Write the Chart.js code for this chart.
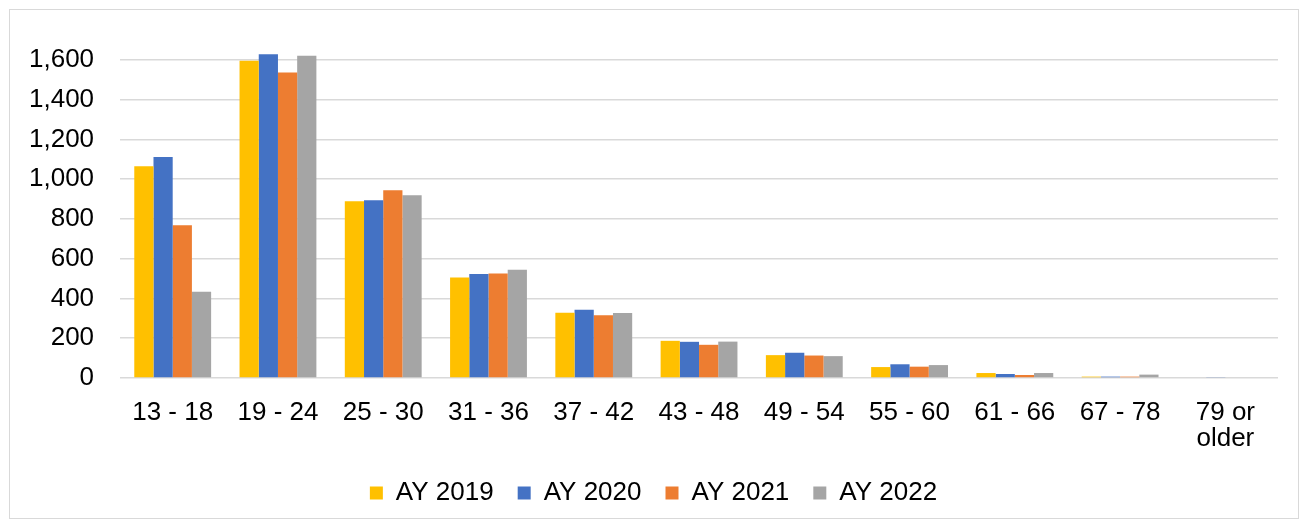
<!DOCTYPE html>
<html>
<head>
<meta charset="utf-8">
<script src="https://cdn.jsdelivr.net/npm/chart.js@4"></script>
<style>
  body { margin: 0; background: #fff; }
  #frame {
    position: absolute; left: 9px; top: 9px;
    width: 1290px; height: 510px;
    border: 1px solid #d9d9d9; box-sizing: border-box;
  }
</style>
</head>
<body>
<div id="frame"><canvas id="chart"></canvas></div>
<script>
// age groups on the x axis
const categories = ["13 - 18", "19 - 24", "25 - 30", "31 - 36", "37 - 42", "43 - 48",
  "49 - 54", "55 - 60", "61 - 66", "67 - 78", ["79 or", "older"]]

const ay2019 = [1065, 1596, 889, 505, 328, 187, 115, 55, 25, 7, 0]
const ay2020 = [1111, 1628, 894, 523, 343, 182, 127, 69, 20, 7, 3]
const ay2021 = [768, 1537, 944, 525, 315, 167, 113, 57, 15, 7, 0]
const ay2022 = [434, 1621, 919, 545, 327, 183, 110, 65, 25, 17, 0]

const yTicks = [0, 200, 400, 600, 800, 1000, 1200, 1400, 1600]

const seriesNames = ["AY 2019", "AY 2020", "AY 2021", "AY 2022"]
const seriesColors = ["#ffc000", "#4472c4", "#ed7d31", "#a5a5a5"]
const seriesData = [ay2019, ay2020, ay2021, ay2022]

Chart.defaults.font.family = "'Liberation Sans', Arial, sans-serif"
Chart.defaults.font.size = 26
Chart.defaults.color = "#000"

new Chart(document.getElementById("chart"), {
  type: "bar",
  data: {
    labels: categories,
    datasets: seriesData.map((d, i) => ({
      label: seriesNames[i],
      data: d,
      backgroundColor: seriesColors[i],
      borderWidth: 0,
      barPercentage: 1,
      categoryPercentage: 0.73
    }))
  },
  options: {
    responsive: true,
    maintainAspectRatio: false,
    animation: false,
    layout: { padding: { left: 19, right: 20, top: 30, bottom: 2 } },
    plugins: {
      tooltip: { enabled: false },
      legend: {
        position: "bottom",
        labels: {
          boxWidth: 13,
          boxHeight: 13,
          padding: 24,
          font: { size: 26 }
        }
      }
    },
    scales: {
      x: {
        // hidden tick marks push the labels down a little
        grid: { display: true, drawOnChartArea: false, drawTicks: true, tickLength: 11, tickColor: "rgba(0,0,0,0)" },
        border: { display: false },
        ticks: { padding: 11, maxRotation: 0, autoSkip: false, font: { lineHeight: 1.0 } },
        afterFit: (axis) => { axis.height = 78 }
      },
      y: {
        min: 0,
        max: 1700,
        afterBuildTicks: (axis) => {
          axis.ticks = yTicks.map(v => ({ value: v }))
        },
        // invisible tick marks keep the labels away from the plot
        grid: { color: "#d9d9d9", lineWidth: 1.5, drawTicks: true, tickLength: 26, tickColor: "rgba(0,0,0,0)" },
        border: { display: false },
        ticks: {
          padding: 0,
          callback: (v) => v.toLocaleString("en-US")
        }
      }
    }
  }
})
</script>
</body>
</html>
